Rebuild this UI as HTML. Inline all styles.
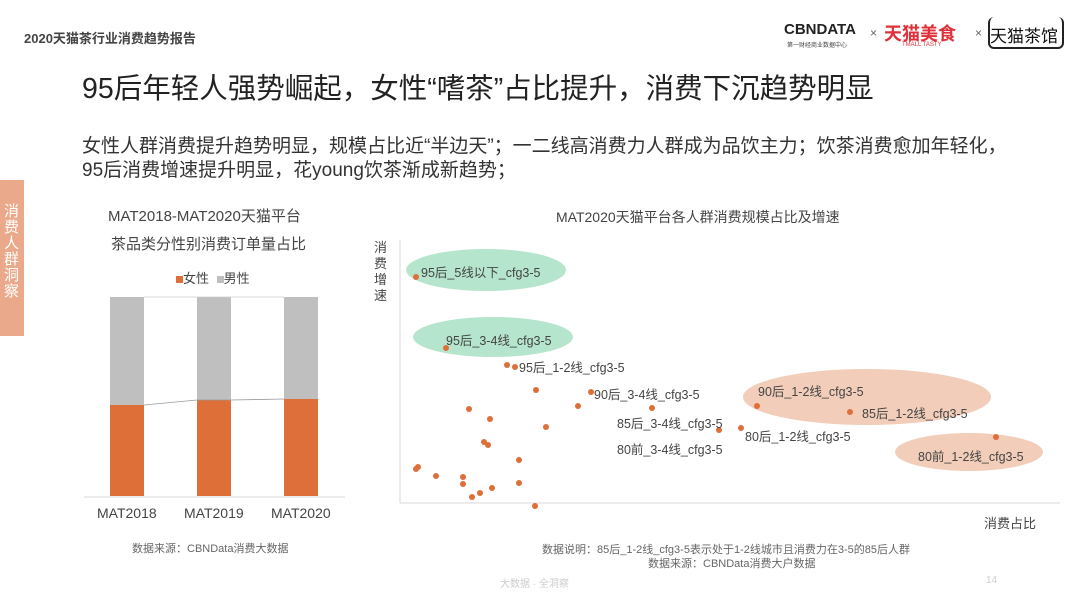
<!DOCTYPE html>
<html><head><meta charset="utf-8"><style>
body{margin:0;width:1080px;height:608px;background:#fff;position:relative;overflow:hidden;font-family:"Liberation Sans","Noto Sans CJK SC",sans-serif;color:#333}
.a{position:absolute;white-space:nowrap}
</style></head><body>
<div class="a" style="left:24px;top:28px;font-size:13px;font-weight:bold;color:#444">2020天猫茶行业消费趋势报告</div>
<div class="a" style="left:784px;top:21px;font-size:15px;font-weight:bold;color:#222;letter-spacing:0px">CBNDATA</div>
<div class="a" style="left:787px;top:40px;font-size:6px;color:#444">第一财经商业数据中心</div>
<div class="a" style="left:870px;top:26px;font-size:12px;color:#666">×</div>
<div class="a" style="left:884px;top:20px;font-size:18px;font-weight:bold;color:#e0303a">天猫美食</div>
<div class="a" style="left:902px;top:42px;font-size:6px;color:#e0303a">TMALL TASTY</div>
<div class="a" style="left:975px;top:26px;font-size:12px;color:#666">×</div>
<div class="a" style="left:988px;top:17px;width:72px;height:30px;border:2px solid #222;border-top:none;border-radius:6px"></div>
<div class="a" style="left:990px;top:22px;font-size:17px;color:#111">天猫茶馆</div>
<div class="a" style="left:82px;top:66px;font-size:28.5px;color:#222">95后年轻人强势崛起，女性“嗜茶”占比提升，消费下沉趋势明显</div>
<div class="a" style="left:82px;top:135px;font-size:19px;color:#333;line-height:24px">女性人群消费提升趋势明显，规模占比近“半边天”；一二线高消费力人群成为品饮主力；饮茶消费愈加年轻化，<br>95后消费增速提升明显，花young饮茶渐成新趋势；</div>
<div class="a" style="left:0;top:180px;width:24px;height:156px;background:#eaa98a"></div>
<div class="a" style="left:4px;top:204px;width:16px;font-size:15px;line-height:16px;color:#fff;white-space:normal">消费人群洞察</div>

<div class="a" style="left:108px;top:205px;font-size:15px;color:#444">MAT2018-MAT2020天猫平台</div>
<div class="a" style="left:111px;top:233px;font-size:15px;color:#444">茶品类分性别消费订单量占比</div>
<div class="a" style="left:176px;top:268px;font-size:13px;color:#444"><span style="display:inline-block;width:7px;height:7px;background:#df6f38"></span>女性 <span style="display:inline-block;width:7px;height:7px;background:#bfbfbf;margin-left:4px"></span>男性</div>
<svg class="a" style="left:0;top:0" width="1080" height="608">
<line x1="84" y1="497" x2="345" y2="497" stroke="#d9d9d9"/>
<rect x="110" y="297" width="34" height="108" fill="#bfbfbf"/><rect x="110" y="405" width="34" height="91" fill="#df6f38"/>
<rect x="197" y="297" width="34" height="103" fill="#bfbfbf"/><rect x="197" y="400" width="34" height="96" fill="#df6f38"/>
<rect x="284" y="297" width="34" height="102" fill="#bfbfbf"/><rect x="284" y="399" width="34" height="97" fill="#df6f38"/>
<polyline points="144,405 197,400 231,400 284,399" fill="none" stroke="#999" stroke-width="0.8"/>
<polyline points="144,297 197,297 231,297 284,297" fill="none" stroke="#ccc" stroke-width="0.8"/>
<line x1="400" y1="240" x2="400" y2="503" stroke="#d9d9d9"/>
<line x1="400" y1="503" x2="1060" y2="503" stroke="#d9d9d9"/>
<ellipse cx="486" cy="270" rx="80" ry="21" fill="#a8e0c4" opacity="0.85"/>
<ellipse cx="493" cy="337" rx="80" ry="20" fill="#a8e0c4" opacity="0.85"/>
<ellipse cx="867" cy="397" rx="124" ry="28" fill="#f0c4ad" opacity="0.85"/>
<ellipse cx="969" cy="452" rx="74" ry="19" fill="#f0c4ad" opacity="0.85"/>
<g fill="#df6f38">
<circle cx="416" cy="277" r="3"/><circle cx="446" cy="348" r="3"/><circle cx="507" cy="365" r="3"/><circle cx="515" cy="367" r="3"/><circle cx="536" cy="390" r="3"/><circle cx="591" cy="392" r="3"/><circle cx="578" cy="406" r="3"/><circle cx="652" cy="408" r="3"/><circle cx="757" cy="406" r="3"/><circle cx="469" cy="409" r="3"/><circle cx="490" cy="419" r="3"/><circle cx="546" cy="427" r="3"/><circle cx="719" cy="430" r="3"/><circle cx="741" cy="428" r="3"/><circle cx="850" cy="412" r="3"/><circle cx="996" cy="437" r="3"/><circle cx="484" cy="442" r="3"/><circle cx="488" cy="445" r="3"/><circle cx="519" cy="460" r="3"/><circle cx="418" cy="467" r="3"/><circle cx="416" cy="469" r="3"/><circle cx="436" cy="476" r="3"/><circle cx="463" cy="477" r="3"/><circle cx="463" cy="484" r="3"/><circle cx="492" cy="488" r="3"/><circle cx="480" cy="493" r="3"/><circle cx="472" cy="497" r="3"/><circle cx="519" cy="483" r="3"/><circle cx="535" cy="506" r="3"/>
</g>
</svg>
<div class="a" style="left:97px;top:505px;font-size:14px;color:#444">MAT2018</div>
<div class="a" style="left:184px;top:505px;font-size:14px;color:#444">MAT2019</div>
<div class="a" style="left:271px;top:505px;font-size:14px;color:#444">MAT2020</div>
<div class="a" style="left:132px;top:540px;font-size:11px;color:#666">数据来源：CBNData消费大数据</div>

<div class="a" style="left:556px;top:207px;font-size:14px;color:#444">MAT2020天猫平台各人群消费规模占比及增速</div>
<div class="a" style="left:374px;top:240px;width:14px;font-size:13px;line-height:16px;white-space:normal;color:#444">消费增速</div>
<div class="a" style="left:984px;top:513px;font-size:13px;color:#444">消费占比</div>
<div style="font-size:12.5px;color:#444">
<div class="a" style="left:421px;top:262px">95后_5线以下_cfg3-5</div>
<div class="a" style="left:446px;top:330px">95后_3-4线_cfg3-5</div>
<div class="a" style="left:519px;top:357px">95后_1-2线_cfg3-5</div>
<div class="a" style="left:594px;top:384px">90后_3-4线_cfg3-5</div>
<div class="a" style="left:758px;top:381px">90后_1-2线_cfg3-5</div>
<div class="a" style="left:617px;top:413px">85后_3-4线_cfg3-5</div>
<div class="a" style="left:862px;top:403px">85后_1-2线_cfg3-5</div>
<div class="a" style="left:745px;top:426px">80后_1-2线_cfg3-5</div>
<div class="a" style="left:617px;top:439px">80前_3-4线_cfg3-5</div>
<div class="a" style="left:918px;top:446px">80前_1-2线_cfg3-5</div>
</div>
<div class="a" style="left:542px;top:541px;font-size:11px;color:#666">数据说明：85后_1-2线_cfg3-5表示处于1-2线城市且消费力在3-5的85后人群</div>
<div class="a" style="left:648px;top:555px;font-size:11px;color:#666">数据来源：CBNData消费大户数据</div>
<div class="a" style="left:500px;top:575px;font-size:10px;color:#ccc">大数据 · 全洞察</div>
<div class="a" style="left:986px;top:575px;font-size:10px;color:#ccc">14</div>
</body></html>
